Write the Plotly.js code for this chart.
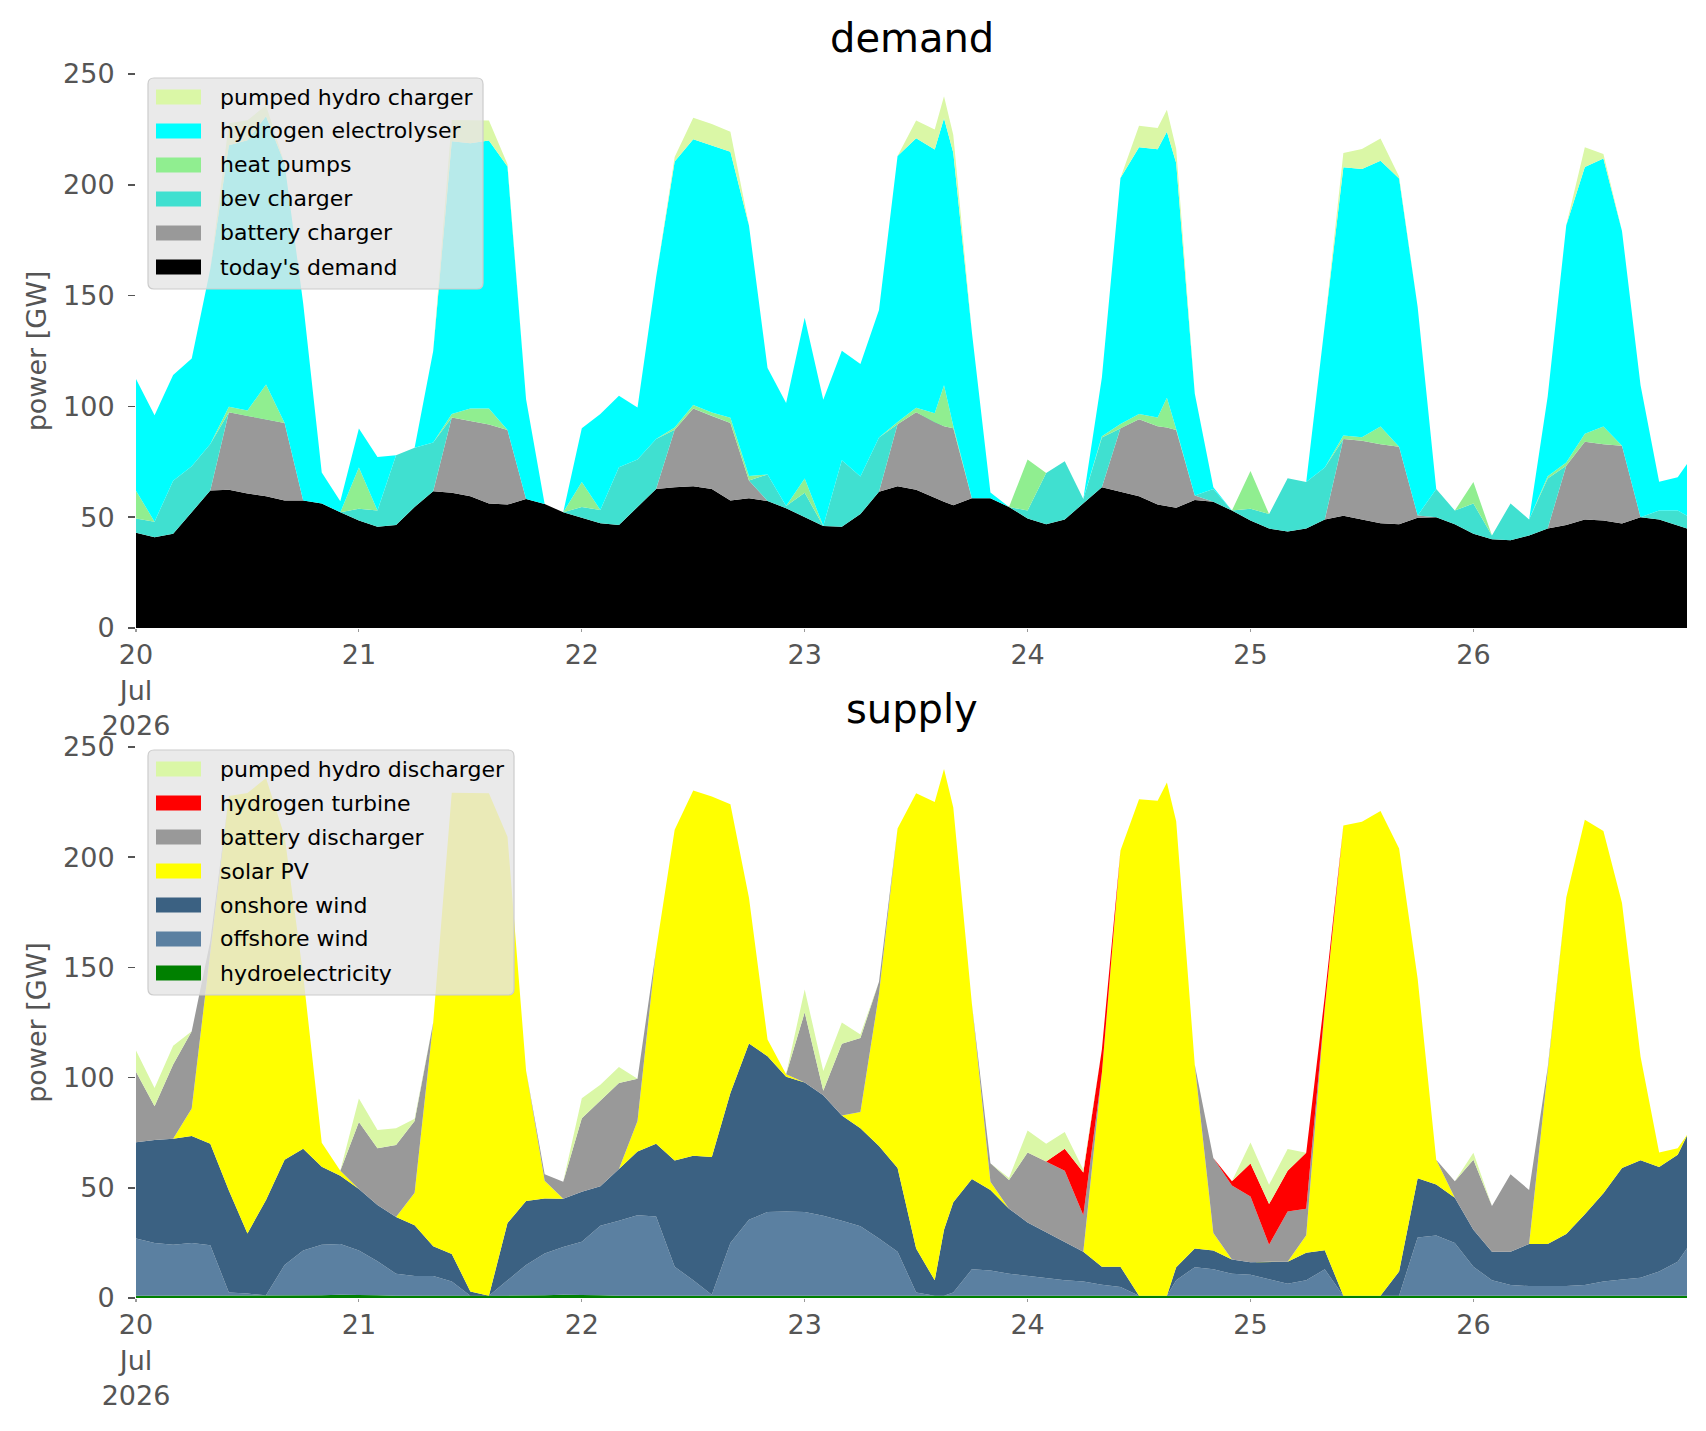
<!DOCTYPE html>
<html>
<head>
<meta charset="utf-8">
<script src="https://cdn.plot.ly/plotly-3.0.1.min.js"></script>
<style>
  body { margin: 0; background: #ffffff; }
  #myDiv { width: 1706px; height: 1431px; }
</style>
</head>
<body>
<div id="myDiv"></div>
<script>
// horas desde el 20 jul 2026 00:00 (cada 2 horas, más dos picos y la última hora)
let horas = [];
for (let h = 0; h < 168; h += 2) {
    horas.push(h);
    if (h === 86 || h === 110) horas.push(h + 1);
}
horas.push(167);

// etiquetas del eje x
const diasTicks = ['2026-07-20', '2026-07-21', '2026-07-22', '2026-07-23', '2026-07-24', '2026-07-25', '2026-07-26'];
const diasTexto = ['20<br>Jul<br>2026', '21', '22', '23', '24', '25', '26'];
const ticksPotencia = [0, 50, 100, 150, 200, 250];

// ---- demanda [GW] ----
const todaysDemand = [43, 41, 42.5, 52, 62, 62.4, 60.7, 59.5, 57.5, 57.5, 56.2, 52.2,
    48.5, 45.7, 46.5, 54.6, 61.7, 61, 59.5, 56.2, 55.7, 58.2, 56, 52.2,
    49.8, 47.3, 46.5, 54.6, 62.7, 63.5, 64, 62.7, 57.5, 58.6, 57.3, 54,
    50, 46, 45.7, 51.4, 61.5, 64, 62.4, 58.6, 57, 55.4, 58.6, 58.6, 54.6,
    49.4, 46.8, 49, 56.2, 63.5, 61.5, 59.5, 55.7, 55, 54.3, 57.8, 57, 53,
    48.5, 44.9, 43.6, 44.9, 49, 50.6, 49, 47.3, 46.8, 49.8, 50, 46.8,
    42.5, 40, 39.6, 41.7, 44.9, 46.5, 49, 48.5, 47.2, 50, 49, 46.5, 44.9];
const batteryCharger = [0, 0, 0, 0, 0, 35, 35, 34.7, 35, 0, 0, 0,
    0, 0, 0, 0, 0, 34, 34, 35.6, 33.6, 0, 0, 0,
    0, 0, 0, 0, 0, 26, 35, 33, 35, 8, 0, 0,
    0, 0, 0, 0, 0, 28, 35, 34.3, 34, 34.7, 0, 0, 0,
    0, 0, 0, 0, 0, 28.6, 34.7, 35.3, 35.5, 35, 2, 0, 0,
    0, 0, 0, 0, 0, 34.7, 35.5, 35.6, 35, 1, 0, 0,
    0, 0, 0, 0, 0, 26.7, 35, 34.4, 35, 0, 0, 0, 0];
const bevCharger = [6.4, 7, 24, 21, 21, 0, 0, 0, 0, 0, 0, 0,
    5.3, 7.3, 31.5, 26.7, 22, 0, 0, 0, 0, 0, 0, 0,
    4.8, 6, 26, 21.4, 22.6, 0, 0, 0, 0, 0, 12, 1,
    11, 0, 30, 17, 24.5, 0, 0, 0, 0, 0, 0, 0, 0,
    3.6, 23.2, 26.3, 2, 22.5, 0, 0, 0, 0, 0, 0, 5.7, 0,
    5.3, 6.5, 24, 21, 23.4, 0, 0, 0, 0, 0, 12.7, 6.2,
    13.7, 1.7, 16.6, 7.3, 22.6, 0, 0, 0, 0, 0, 4, 6.5, 5.7];
const heatPumps = [12.5, 0, 0, 0, 0, 2.4, 2.4, 15.7, 0, 0, 0, 0,
    18.6, 0, 0, 0, 0, 1.6, 5.6, 7.2, 0, 0, 0, 0,
    11.3, 0, 0, 0, 0, 1, 1.6, 1.6, 2.4, 2, 0, 0,
    6.5, 0, 0, 0, 0, 1, 2, 4, 18.5, 1, 0, 0, 0,
    23, 0, 0, 0, 0.5, 2, 2.4, 4, 13.4, 0.5, 0, 0, 0,
    17, 0, 0, 0, 0, 1.6, 1.6, 8, 0, 0, 0, 0,
    9.7, 0, 0, 0, 1, 1.5, 3.7, 8, 0, 0, 0, 0, 0];
const hydrogenElectrolyser = [50.5, 48, 47.7, 48.6, 79, 118, 122, 121, 117, 89, 14, 5,
    17.6, 24.2, 0, 0, 41.3, 123, 119.6, 121, 119, 45, 0, 0,
    24.2, 43.3, 32.3, 23.5, 73, 120, 120, 120.6, 120, 113, 48, 46.5,
    72.5, 57, 49.4, 50.7, 57.5, 120, 121.6, 119, 120.5, 123.4, 75, 2.5, 0,
    0, 0, 0, 0, 26.5, 111, 120.4, 121, 120, 120, 46, 0.8, 0,
    0, 0, 0, 0, 64.6, 121, 121, 120, 121, 94, 0, 0,
    0, 0, 0, 0, 36, 107, 120.3, 121, 97, 59.5, 13, 15, 23.4];
const pumpedHydroCharger = [0, 0, 0, 0, 0, 10, 9, 5, 0, 0, 0, 0,
    0, 0, 0, 0, 0, 9.6, 10.4, 9, 1, 0, 0, 0,
    0, 0, 0, 0, 0, 2, 9.7, 9.5, 9, 0, 0, 0,
    0, 0, 0, 0, 0, 0, 8, 9, 10, 8, 0, 0, 0,
    0, 0, 0, 0, 0, 0, 9.7, 9.6, 10, 6.5, 0, 0, 0,
    0, 0, 0, 0, 0, 6.5, 9, 10, 1, 0, 0, 0,
    0, 0, 0, 0, 0, 0, 9, 2, 0, 0, 0, 0, 0];

// ---- oferta [GW] ----
const hydroelectricity = [1, 1, 1, 1, 1, 1, 1, 1, 1, 1, 1.2, 1.5,
    1.5, 1.2, 1, 1, 1, 1, 1, 1, 1, 1, 1.2, 1.5,
    1.5, 1.2, 1, 1, 1, 1, 1, 1, 1, 1, 1, 1,
    1, 1, 1, 1, 1, 1, 1, 1, 1, 1, 1, 1, 1,
    1, 1, 1, 1, 1, 1, 1, 1, 1, 1, 1, 1, 1,
    1, 1, 1, 1, 1, 1, 1, 1, 1, 1, 1, 1,
    1, 1, 1, 1, 1, 1, 1, 1, 1, 1, 1, 1, 1];
const offshoreWind = [26, 24, 23.2, 24, 22.9, 1.5, 1, 0.2, 14, 20.5, 23, 23,
    20, 15.5, 10, 9, 9, 6.5, 0, 0, 7, 14, 19, 21.6,
    24, 31.6, 34, 36.5, 36, 13.2, 7, 0.5, 24, 34.5, 38, 38.3,
    38, 36.3, 34, 31.5, 26, 20, 1.5, 0, 0, 1.5, 12, 11.5, 10,
    9, 8, 7, 6.5, 5, 4, 0, 0, 0, 7, 13, 12, 10,
    9.5, 7.5, 5.5, 7, 12, 0, 0, 0, 0, 26.5, 27.4, 24,
    13.2, 7, 4.9, 4.4, 4.4, 4.4, 4.9, 6.5, 7.4, 8.2, 11, 15.5, 21.6];
const onshoreWind = [43.7, 46.7, 48, 48.5, 46.1, 46.3, 27.3, 43.3, 47.7, 46.2, 35.4, 31,
    28, 25.5, 25.8, 23, 13.5, 12.5, 2, 0, 26, 29, 25, 21.9,
    22.7, 17.9, 23.5, 29, 33, 48.2, 56.5, 62.5, 68, 80, 70.7, 61.1,
    58.8, 54.7, 47.8, 44.5, 42, 38, 20, 7, 30, 41, 41, 36.5, 29.5,
    24.3, 20.8, 17.5, 13.5, 8.2, 9.2, 0, 0, 0, 6, 8.5, 8.5, 6.5,
    5.7, 8, 10, 12.5, 8.7, 0, 0, 0, 11, 26.8, 23.1, 20.5,
    16.8, 13, 15.1, 19.1, 19.1, 23.6, 32.1, 40, 50.6, 53.3, 47.4, 48.5, 51];
const solarPV = [0, 0, 0, 12.5, 87, 179, 199.8, 191.4, 146.8, 78.8, 10.8, 2.2,
    0, 0, 0, 14.7, 101.5, 209.2, 226.1, 228, 175.3, 59.2, 8, 0,
    0, 0, 0, 13.8, 88, 150.1, 165.8, 163.5, 131, 66.1, 7.6, 1.1,
    0, 0, 0, 7.4, 69, 154, 206.5, 217, 209, 179, 79.6, 3.7, 0,
    0, 0, 0, 0, 88, 188.8, 225.3, 224.6, 232.9, 202.3, 83.3, 8, 0,
    0, 0, 0, 8, 110, 213.4, 215.1, 220, 192, 90.5, 11.2, 0,
    0, 0, 0, 0, 80, 152.7, 179, 164.4, 120.2, 47, 6.6, 3, 0.4];
const batteryDischarger = [32, 15.3, 33.8, 35, 5, 0, 0, 0, 0, 0, 0, 0,
    30.4, 25.7, 32.6, 32.6, 0, 0, 0, 0, 0, 0, 3, 7.7,
    33.3, 39, 39, 19.2, 0, 0, 0, 0, 0, 0, 0, 0,
    31.8, 2, 32.6, 33.6, 5.5, 0, 0, 0, 0, 0, 0, 8.4, 13,
    31.7, 32.1, 32.2, 16.6, 0, 0, 0, 0, 0, 0, 0, 34, 33.5,
    29.8, 7.7, 22.8, 12, 0, 0, 0, 0, 0, 0, 0, 7.5,
    31.7, 20.7, 35.2, 24.5, 0, 0, 0, 0, 0, 0, 0, 0, 0];
const hydrogenTurbine = [0, 0, 0, 0, 0, 0, 0, 0, 0, 0, 0, 0,
    0, 0, 0, 0, 0, 0, 0, 0, 0, 0, 0, 0,
    0, 0, 0, 0, 0, 0, 0, 0, 0, 0, 0, 0,
    0, 0, 0, 0, 0, 0, 0, 0, 0, 0, 0, 0, 0,
    0, 0, 10, 19.3, 10.6, 0, 0, 0, 0, 0, 0, 0, 2,
    15, 18.4, 18.4, 25.4, 5.3, 0, 0, 0, 0, 0, 0, 0,
    0, 0, 0, 0, 0, 0, 0, 0, 0, 0, 0, 0, 0];
const pumpedHydroDischarger = [9.6, 8.3, 8.4, 0, 0, 0, 0, 0, 0, 0, 0, 0,
    10.6, 8.3, 7.6, 1, 0, 0, 0, 0, 0, 0, 0, 0,
    9.1, 7.1, 7.3, 0, 0, 0, 0, 0, 0, 0, 0, 0,
    10.4, 9, 9.6, 1.6, 0, 0, 0, 0, 0, 0, 0, 0, 1,
    10, 8.1, 7.6, 1.3, 0, 0, 0, 0, 0, 0, 0, 0, 0,
    9.6, 8.8, 9.9, 0, 0, 0, 0, 0, 0, 0, 0, 0,
    3.2, 0, 0, 0, 0, 0, 0, 0, 0, 0, 0, 0, 0];

// nombres y colores de cada serie (orden de apilado, de abajo hacia arriba)
const nombresDemanda = ["today's demand", 'battery charger', 'bev charger', 'heat pumps', 'hydrogen electrolyser', 'pumped hydro charger'];
const coloresDemanda = ['#000000', '#999999', '#40e0d0', '#90ee90', '#00ffff', '#daf7a6'];
const nombresOferta = ['hydroelectricity', 'offshore wind', 'onshore wind', 'solar PV', 'battery discharger', 'hydrogen turbine', 'pumped hydro discharger'];
const coloresOferta = ['#008000', '#5b80a1', '#3b6182', '#ffff00', '#999999', '#ff0000', '#daf7a6'];

// convertir hora en fecha para plotly
function horaAFecha(h) {
    let d = new Date(Date.UTC(2026, 6, 20) + h * 3600 * 1000);
    return d.toISOString().slice(0, 16).replace('T', ' ');
}
let fechas = horas.map(horaAFecha);

const fuente = 'DejaVu Sans, Liberation Sans, sans-serif';

// traza apilada (area)
function trazaArea(nombre, valores, color, grupo, ejeX, ejeY) {
    return {
        x: fechas,
        y: valores,
        name: nombre,
        type: 'scatter',
        mode: 'lines',
        stackgroup: grupo,
        line: { width: 0, color: color },
        fillcolor: color,
        xaxis: ejeX,
        yaxis: ejeY,
        showlegend: false
    };
}

let seriesDemanda = [todaysDemand, batteryCharger, bevCharger, heatPumps, hydrogenElectrolyser, pumpedHydroCharger];
let seriesOferta = [hydroelectricity, offshoreWind, onshoreWind, solarPV, batteryDischarger, hydrogenTurbine, pumpedHydroDischarger];

var data = [];
seriesDemanda.forEach((s, i) => data.push(trazaArea(nombresDemanda[i], s, coloresDemanda[i], 'demanda', 'x', 'y')));
seriesOferta.forEach((s, i) => data.push(trazaArea(nombresOferta[i], s, coloresOferta[i], 'oferta', 'x2', 'y2')));

// ejes comunes
function ejeX(ancla) {
    return {
        anchor: ancla,
        type: 'date',
        range: [horaAFecha(0), horaAFecha(167)],
        tickvals: diasTicks,
        ticktext: diasTexto,
        ticks: 'outside',
        ticklen: 3,
        tickwidth: 1.2,
        tickcolor: '#999999',
        ticklabelstandoff: 0,
        tickfont: { family: fuente, size: 27, color: '#555555' },
        showgrid: false,
        zeroline: false,
        showline: false
    };
}
function ejeY(ancla, dominio) {
    return {
        anchor: ancla,
        domain: dominio,
        range: [0, 250],
        tickvals: ticksPotencia,
        ticks: 'outside',
        ticklen: 7,
        tickwidth: 1.5,
        tickcolor: '#555555',
        ticklabelstandoff: 8,
        tickfont: { family: fuente, size: 27, color: '#555555' },
        showgrid: false,
        zeroline: false,
        showline: false,
        title: { text: 'power [GW]', font: { family: fuente, size: 27, color: '#555555' }, standoff: 8 }
    };
}

// leyendas dibujadas a mano (cajas de color como en matplotlib)
const PX_L = 136, PX_R = 1687, PX_T = 74, PX_B = 1298;
function pxX(px) { return (px - PX_L) / (PX_R - PX_L); }
function pxY(py) { return (PX_B - py) / (PX_B - PX_T); }

function cajaRedondeada(x0, y0, x1, y1, r) {
    let p = 'M' + pxX(x0 + r) + ',' + pxY(y0) +
        ' L' + pxX(x1 - r) + ',' + pxY(y0) +
        ' Q' + pxX(x1) + ',' + pxY(y0) + ' ' + pxX(x1) + ',' + pxY(y0 + r) +
        ' L' + pxX(x1) + ',' + pxY(y1 - r) +
        ' Q' + pxX(x1) + ',' + pxY(y1) + ' ' + pxX(x1 - r) + ',' + pxY(y1) +
        ' L' + pxX(x0 + r) + ',' + pxY(y1) +
        ' Q' + pxX(x0) + ',' + pxY(y1) + ' ' + pxX(x0) + ',' + pxY(y1 - r) +
        ' L' + pxX(x0) + ',' + pxY(y0 + r) +
        ' Q' + pxX(x0) + ',' + pxY(y0) + ' ' + pxX(x0 + r) + ',' + pxY(y0) + ' Z';
    return {
        type: 'path', xref: 'paper', yref: 'paper', path: p,
        fillcolor: 'rgba(229,229,229,0.8)', line: { color: '#cccccc', width: 1.2 }
    };
}

let shapes = [];
let annotations = [];
function leyendaManual(nombres, colores, izq, arriba, ancho) {
    let n = nombres.length;
    let paso = 34;
    shapes.push(cajaRedondeada(izq, arriba, izq + ancho, arriba + 20 + paso * (n - 1) + 21, 6));
    for (let k = 0; k < n; k++) {
        let i = n - 1 - k; // la serie de arriba va primero
        let cy = arriba + 19 + paso * k;
        shapes.push({
            type: 'rect', xref: 'paper', yref: 'paper',
            x0: pxX(izq + 8), x1: pxX(izq + 53), y0: pxY(cy - 7.5), y1: pxY(cy + 7.5),
            fillcolor: colores[i], line: { width: 0 }
        });
        annotations.push({
            text: nombres[i], xref: 'paper', yref: 'paper', x: pxX(izq + 70), y: pxY(cy),
            xanchor: 'left', yanchor: 'middle', showarrow: false,
            font: { family: fuente, size: 22, color: '#000000' }
        });
    }
}
leyendaManual(nombresDemanda, coloresDemanda, 148, 78, 335);
leyendaManual(nombresOferta, coloresOferta, 148, 750, 366);

// títulos de cada gráfico
annotations.push({ text: 'demand', xref: 'paper', yref: 'paper', x: 0.5, y: pxY(38), xanchor: 'center', yanchor: 'middle',
    showarrow: false, font: { family: fuente, size: 40, color: '#000000' } });
annotations.push({ text: 'supply', xref: 'paper', yref: 'paper', x: 0.5, y: pxY(709), xanchor: 'center', yanchor: 'middle',
    showarrow: false, font: { family: fuente, size: 40, color: '#000000' } });

var layout = {
    width: 1706,
    height: 1431,
    margin: { l: PX_L, r: 1706 - PX_R, t: PX_T, b: 1431 - PX_B },
    paper_bgcolor: '#ffffff',
    plot_bgcolor: '#ffffff',
    font: { family: fuente },
    showlegend: false,
    xaxis: ejeX('y'),
    yaxis: ejeY('x', [pxY(628), 1]),
    xaxis2: ejeX('y2'),
    yaxis2: ejeY('x2', [0, pxY(747)]),
    shapes: shapes,
    annotations: annotations
};

// Dibujar el gráfico
Plotly.newPlot('myDiv', data, layout, { staticPlot: true });
</script>
</body>
</html>
